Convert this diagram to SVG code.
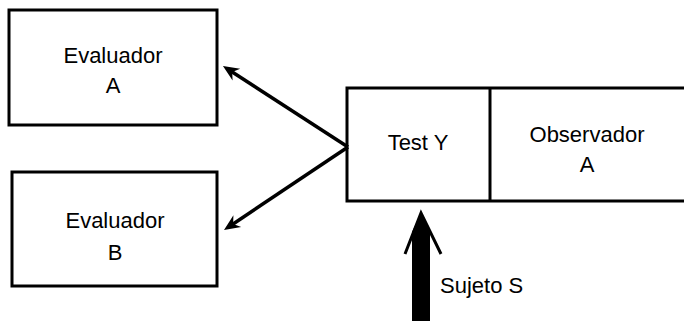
<svg xmlns="http://www.w3.org/2000/svg" width="684" height="321" viewBox="0 0 684 321">
  <style>
    .box { fill: none; stroke: #000; stroke-width: 3; }
    .lbl { font-family: "Liberation Sans", Arial, sans-serif; font-size: 22px; fill: #000; text-anchor: middle; }
    .conn { stroke: #000; stroke-width: 3.5; fill: none; }
  </style>
  <defs>
    <marker id="head" markerUnits="userSpaceOnUse" markerWidth="30" markerHeight="30" viewBox="-20 -10 30 20" refX="0" refY="0" orient="auto">
      <path d="M6,0 L-10,-7 L-5,0 L-10,7 Z" fill="#000"/>
    </marker>
  </defs>
  <rect width="684" height="321" fill="#fff"/>

  <g id="evaluador-a">
    <rect class="box" x="9" y="10" width="208" height="115"/>
    <text class="lbl" x="113" y="63">Evaluador</text>
    <text class="lbl" x="113" y="93">A</text>
  </g>

  <g id="evaluador-b">
    <rect class="box" x="12" y="172" width="205" height="114"/>
    <text class="lbl" x="115" y="228">Evaluador</text>
    <text class="lbl" x="115" y="260">B</text>
  </g>

  <g id="test-y">
    <path class="box" d="M684,88 H347 V201 H684"/>
    <text class="lbl" x="418" y="150">Test Y</text>
  </g>

  <g id="observador-a">
    <line class="box" x1="490" y1="88" x2="490" y2="201"/>
    <text class="lbl" x="587" y="142">Observador</text>
    <text class="lbl" x="587" y="172">A</text>
  </g>

  <g id="connectors">
    <line class="conn" x1="348" y1="147" x2="228" y2="69.3" marker-end="url(#head)"/>
    <line class="conn" x1="348" y1="147" x2="229" y2="226.7" marker-end="url(#head)"/>
    <g id="sujeto-s">
      <polygon points="412,321 412,232 421,213 430,232 430,321" fill="#000"/>
      <polyline points="405,254 421,213 441,254" fill="none" stroke="#000" stroke-width="3"/>
      <text x="440" y="293" style="font-family:'Liberation Sans', Arial, sans-serif; font-size:22px; fill:#000;">Sujeto S</text>
    </g>
  </g>
</svg>
